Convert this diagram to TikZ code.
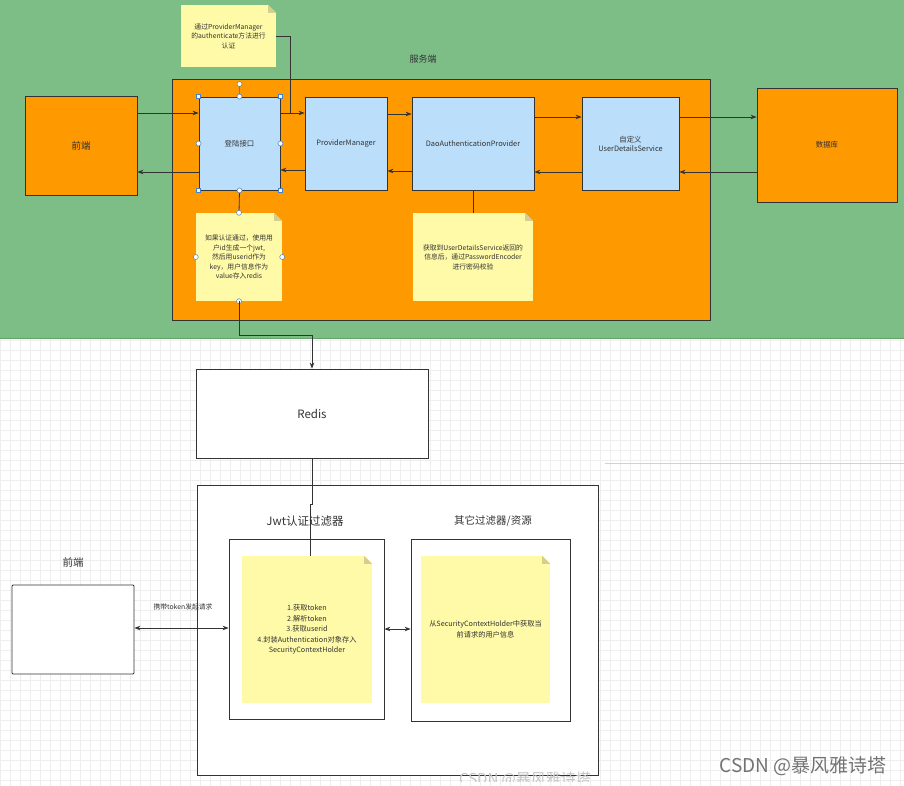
\documentclass[tikz,border=0pt]{standalone}
\usepackage{fontspec}
\setmainfont{Noto Sans CJK SC}
\usetikzlibrary{arrows.meta,calc}
\definecolor{greenbg}{RGB}{125,190,135}
\definecolor{orangec}{RGB}{255,153,0}
\definecolor{bluec}{RGB}{187,222,250}
\definecolor{notec}{RGB}{255,250,168}
\definecolor{foldc}{RGB}{214,206,140}
\definecolor{linec}{RGB}{51,51,51}
\definecolor{gridc}{RGB}{238,238,238}
\definecolor{handlec}{RGB}{70,130,200}
\begin{document}
\begin{tikzpicture}[x=1pt,y=-1pt,
  txt/.style={text=linec,font=\fontsize{7.4}{9}\selectfont,align=center},
  box/.style={draw=linec,line width=0.8pt,inner sep=0pt,txt},
  bluebox/.style={box,fill=bluec,minimum height=93pt},
  orbox/.style={box,fill=orangec},
  wbox/.style={box,fill=white},
  notebox/.style={fill=notec,inner sep=0pt,txt,font=\fontsize{6.8}{9.5}\selectfont},
  arr/.style={draw=linec,line width=0.8pt,-{Stealth[length=6pt,width=4.5pt]}},
  darr/.style={draw=linec,line width=0.8pt,{Stealth[length=6pt,width=4.5pt]}-{Stealth[length=6pt,width=4.5pt]}},
  conn/.style={draw=linec,line width=0.8pt},
  hcirc/.style={circle,draw=handlec,fill=white,line width=0.5pt,inner sep=0pt,minimum size=5pt},
  hsq/.style={rectangle,draw=handlec,fill=white,line width=0.5pt,inner sep=0pt,minimum size=4pt}
]
\useasboundingbox (0,0) rectangle (904,786);
\fill[white] (0,0) rectangle (904,786);
% grid
\foreach \gx in {0,10,...,900} \draw[gridc,line width=0.4pt] (\gx,338) -- (\gx,786);
\foreach \gy in {340,350,...,780} \draw[gridc,line width=0.4pt] (0,\gy) -- (904,\gy);
\draw[red!25,line width=0.8pt] (605,463) -- (904,463);
% green band
\fill[greenbg] (0,0) rectangle (904,338);
\draw[green!40!black!60,line width=0.6pt] (0,338) -- (904,338);

\node[txt,font=\fontsize{9}{11}\selectfont] (fwd) at (423,59) {服务端};
\node[orbox,minimum width=538pt,minimum height=241pt] (svr) at (441,199.5) {};

% top nodes
\node[orbox,minimum width=112pt,minimum height=99pt,font=\fontsize{9.5}{11}\selectfont] (qd) at (81,145.5) {前端};
\node[bluebox,minimum width=81pt] (login) at (239.5,143.5) {登陆接口};
\node[bluebox,minimum width=82pt] (pm) at (346,143.5) {ProviderManager};
\node[bluebox,minimum width=122pt] (dao) at (473,143.5) {DaoAuthenticationProvider};
\node[bluebox,minimum width=97pt] (uds) at (630.5,143.5) {自定义\\UserDetailsService};
\node[orbox,minimum width=140pt,minimum height=114pt] (db) at (827,145) {数据库};

% notes
\node[notebox,minimum width=95pt,minimum height=62pt] (tn) at (228.5,36) {通过ProviderManager\\的authenticate方法进行\\认证};
\node[notebox,minimum width=86pt,minimum height=88pt] (ln) at (239,257) {如果认证通过，使用用\\户id生成一个jwt,\\然后用userid作为\\key，用户信息作为\\value存入redis};
\node[notebox,minimum width=120pt,minimum height=88pt] (rn) at (473,257) {获取到UserDetailsService返回的\\信息后，通过PasswordEncoder\\进行密码校验};
\foreach \n/\bg in {tn/greenbg,ln/orangec,rn/orangec}{
  \fill[\bg] ($(\n.north east)+(-8,0)$) -- (\n.north east) -- ($(\n.north east)+(0,8)$) -- cycle;
  \fill[foldc] ($(\n.north east)+(-8,0)$) -- ($(\n.north east)+(0,8)$) -- ($(\n.north east)+(-8,8)$) -- cycle;
}

% arrows top
\draw[arr] (qd.east |- 0,113) -- (login.west |- 0,113);
\draw[arr] (login.west |- 0,172) -- (qd.east |- 0,172);
\draw[arr] (login.east |- 0,113) -- (pm.west |- 0,113);
\draw[arr] (pm.west |- 0,170) -- (login.east |- 0,170);
\draw[arr] (pm.east |- 0,114) -- (dao.west |- 0,114);
\draw[arr] (dao.west |- 0,171) -- (pm.east |- 0,171);
\draw[arr] (dao.east |- 0,117) -- (uds.west |- 0,117);
\draw[arr] (uds.west |- 0,172) -- (dao.east |- 0,172);
\draw[arr] (uds.east |- 0,117) -- (db.west |- 0,117);
\draw[arr] (db.west |- 0,172) -- (uds.east |- 0,172);
\draw[conn] (tn.east) -| (290,113);
\draw[conn] (login.south) -- (ln.north);
\draw[conn] (dao.south) -- (rn.north);

% selection handles
\draw[handlec,line width=0.5pt] (login.north) -- (239.5,84);
\node[hcirc] (h0) at (239.5,84) {};
\foreach \a in {north,south,east,west} \node[hcirc] at (login.\a) {};
\foreach \a in {north east,north west,south east,south west} \node[hsq] at (login.\a) {};
\foreach \a in {north,south,east,west} \node[hcirc] at (ln.\a) {};

% Redis
\node[wbox,minimum width=232pt,minimum height=89pt,font=\fontsize{11.5}{13}\selectfont] (redis) at (312,413.5) {Redis};
\draw[arr] (ln.south) -- ++(0,34) -| (redis.north);

% lower part
\node[wbox,minimum width=401pt,minimum height=290pt] (outer) at (397.5,630) {};
\node[txt,font=\fontsize{11.5}{13}\selectfont] (jl) at (305,521) {Jwt认证过滤器};
\node[txt,font=\fontsize{10.5}{12}\selectfont] (ol) at (493,521) {其它过滤器/资源};
\node[wbox,minimum width=155pt,minimum height=180pt] (jwt) at (306.5,629) {};
\node[wbox,minimum width=159pt,minimum height=182pt] (oth) at (490.5,630) {};
\node[notebox,minimum width=130pt,minimum height=147pt,font=\fontsize{7.2}{10.5}\selectfont] (jn) at (307,629.5) {1.获取token\\2.解析token\\3.获取userid\\4.封装Authentication对象存入\\SecurityContextHolder};
\node[notebox,minimum width=129pt,minimum height=147pt,font=\fontsize{7.2}{10.5}\selectfont] (on) at (485.5,629.5) {从SecurityContextHolder中获取当\\前请求的用户信息};
\foreach \n in {jn,on}{
  \fill[white] ($(\n.north east)+(-8,0)$) -- (\n.north east) -- ($(\n.north east)+(0,8)$) -- cycle;
  \fill[foldc] ($(\n.north east)+(-8,0)$) -- ($(\n.north east)+(0,8)$) -- ($(\n.north east)+(-8,8)$) -- cycle;
}
\draw[conn] (redis.south) -- (312,504) -- (310,504) -- (jn.north -| 310,0);

\node[txt,font=\fontsize{10.5}{12}\selectfont] (ql) at (73,562) {前端};
\node[wbox,minimum width=122pt,minimum height=89pt,rounded corners=1pt] (qd2) at (73,629.5) {};
\draw[darr] (qd2.east |- 0,628) -- (jwt.west |- 0,628);
\node[txt,font=\fontsize{6.8}{8}\selectfont] (tl) at (183,607) {携带token发起请求};
\draw[darr] (jwt.east |- 0,629) -- (oth.west |- 0,629);

% watermarks
\begin{scope}
\clip (400,760) rectangle (610,781);
\node[text=gray!45,font=\fontsize{15}{17}\selectfont] (wm1) at (525,780) {CSDN @暴风雅诗塔};
\end{scope}
\node[text=gray!90!black,font=\fontsize{19}{22}\selectfont] (wm2) at (803,766) {CSDN @暴风雅诗塔};
\end{tikzpicture}
\end{document}
